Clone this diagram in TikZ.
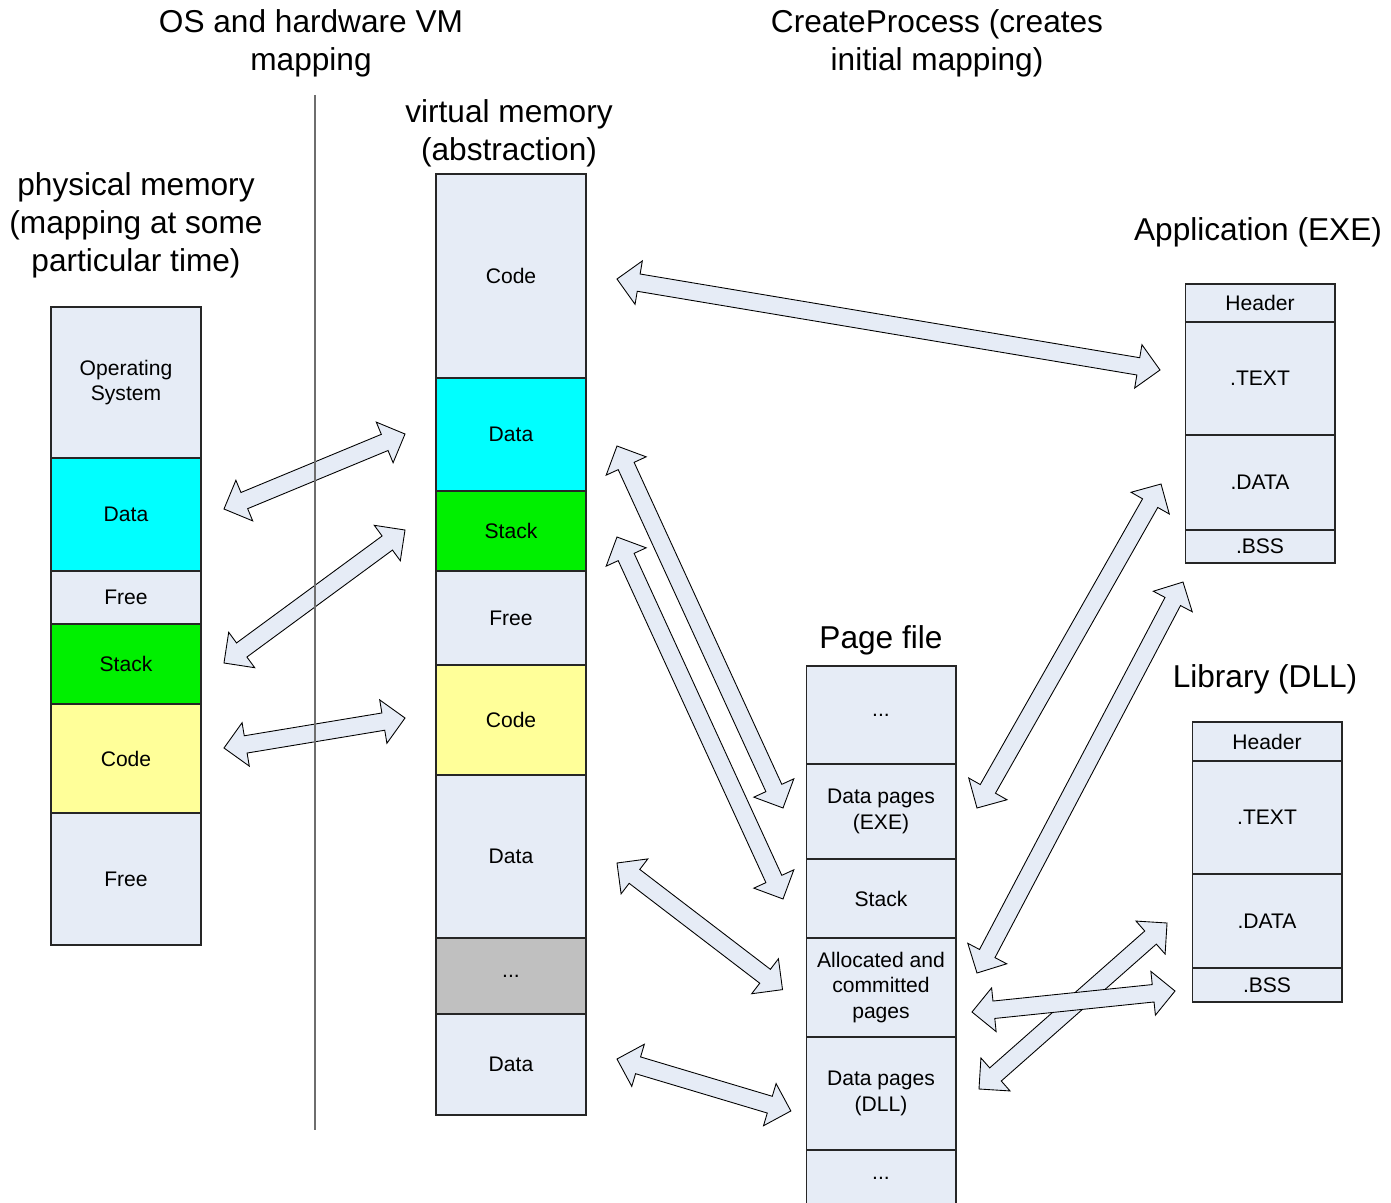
\documentclass[tikz,border=0pt]{standalone}
\usepackage{fontspec}
\setmainfont{Liberation Sans}
\usetikzlibrary{positioning, calc}

\definecolor{cLight}{RGB}{230,236,246}
\definecolor{cData}{RGB}{0,255,255}
\definecolor{cStack}{RGB}{0,240,0}
\definecolor{cCode}{RGB}{255,255,153}
\definecolor{cDots}{RGB}{192,192,192}
\definecolor{cSep}{RGB}{110,110,110}

\newcommand{\boxfont}{\fontsize{12}{14.7}\selectfont}
\newcommand{\titlefont}{\fontsize{18}{21.5}\selectfont}
\newcommand{\arrhead}{0.44cm}
\newcommand{\arrshaft}{0.175cm}

\tikzset{
  basebox/.style={rectangle, draw=black!85, line width=0.6pt, fill=cLight,
                  minimum width=3cm, inner sep=1pt, outer sep=0pt,
                  align=center, font=\boxfont},
  seg/.style={basebox, minimum height=#1*0.02cm},
  datanode/.style={fill=cData},
  stacknode/.style={fill=cStack},
  codenode/.style={fill=cCode},
  dotsnode/.style={fill=cDots},
  title/.style={align=center, inner sep=0pt, font=\titlefont},
  blockarrow/.style={draw=black, fill=cLight, line width=0.5pt, line join=miter},
  sepline/.style={draw=cSep, line width=0.7pt}
}

% hollow two-headed block arrow between two points
\newcommand{\memarrow}[2]{%
  \path[blockarrow] let \p1=#1, \p2=#2,
      \n1={atan2(\y2-\y1,\x2-\x1)}, \n2={veclen(\x2-\x1,\y2-\y1)} in
    [shift={(\p1)}, rotate=\n1]
    (0,0) -- (\arrhead,\arrhead) -- (\arrhead,\arrshaft)
    -- ({\n2-\arrhead},\arrshaft) -- ({\n2-\arrhead},\arrhead) -- (\n2,0)
    -- ({\n2-\arrhead},-\arrhead) -- ({\n2-\arrhead},-\arrshaft)
    -- (\arrhead,-\arrshaft) -- (\arrhead,-\arrhead) -- cycle;
}

\begin{document}
\begin{tikzpicture}[x=0.02cm, y=-0.02cm]

  \useasboundingbox (0,0) rectangle (1391,1202);

  % physical memory
  \node[seg=151, anchor=north] (os) at (126,307) {Operating\\System};
  \node[seg=113, datanode, below=0pt of os] (pdata) {Data};
  \node[seg=53, below=0pt of pdata] (pfree) {Free};
  \node[seg=80, stacknode, below=0pt of pfree] (pstack) {Stack};
  \node[seg=109, codenode, below=0pt of pstack] (pcode) {Code};
  \node[seg=132, below=0pt of pcode] (pfree2) {Free};

  % virtual memory
  \node[seg=204, anchor=north] (vcode) at (511,174) {Code};
  \node[seg=113, datanode, below=0pt of vcode] (vdata) {Data};
  \node[seg=80, stacknode, below=0pt of vdata] (vstack) {Stack};
  \node[seg=94, below=0pt of vstack] (vfree) {Free};
  \node[seg=110, codenode, below=0pt of vfree] (vcode2) {Code};
  \node[seg=163, below=0pt of vcode2] (vdata2) {Data};
  \node[seg=76, dotsnode, below=0pt of vdata2] (vdots) {...};
  \node[seg=101, below=0pt of vdots] (vdata3) {Data};

  % page file
  \node[seg=98, anchor=north] (fdots) at (881,666) {...};
  \node[seg=95, below=0pt of fdots] (fexe) {Data pages\\(EXE)};
  \node[seg=79, below=0pt of fexe] (fstack) {Stack};
  \node[seg=99, below=0pt of fstack] (falloc) {Allocated and\\committed\\pages};
  \node[seg=113, below=0pt of falloc] (fdll) {Data pages\\(DLL)};
  \node[seg=56, below=0pt of fdll] (fdots2) {...};

  % application image
  \node[seg=38, anchor=north] (ahead) at (1260,284) {Header};
  \node[seg=113, below=0pt of ahead] (atext) {.TEXT};
  \node[seg=95, below=0pt of atext] (adata) {.DATA};
  \node[seg=33, below=0pt of adata] (abss) {.BSS};

  % library image
  \node[seg=39, anchor=north] (lhead) at (1267,722) {Header};
  \node[seg=113, below=0pt of lhead] (ltext) {.TEXT};
  \node[seg=94, below=0pt of ltext] (ldata) {.DATA};
  \node[seg=34, below=0pt of ldata] (lbss) {.BSS};

  % headings
  \node[title] (hwtitle) at (311,43) {OS and hardware VM\\mapping};
  \node[title] (cptitle) at (937,43) {CreateProcess (creates\\initial mapping)};
  \node[title, above=0.58cm of os.north, xshift=0.2cm] (ptitle)
      {physical memory\\(mapping at some\\particular time)};
  \node[title, above=0.13cm of vcode.north, xshift=-0.04cm] (vtitle)
      {virtual memory\\(abstraction)};
  \node[title, above=0.22cm of fdots.north] (ftitle) {Page file};
  \node[title, above=0.74cm of ahead.north, xshift=-0.04cm] (atitle) {Application (EXE)};
  \node[title, above=0.56cm of lhead.north, xshift=-0.04cm] (ltitle) {Library (DLL)};

  % mappings
  \memarrow{($(vcode.east)+(31,3)$)}{($(atext.west)+(-25,-8.5)$)}
  \memarrow{($(pdata.east)+(23,-5.5)$)}{($(vdata.west)+(-31,-0.5)$)}
  \memarrow{($(pstack.east)+(23,-1)$)}{($(vstack.west)+(-31,-1)$)}
  \memarrow{($(pcode.east)+(23,-10.5)$)}{($(vcode2.west)+(-31,-2)$)}
  \memarrow{($(vdata.east)+(31,11.5)$)}{($(fexe.west)+(-23,-3.5)$)}
  \memarrow{($(vstack.east)+(31,6)$)}{($(fstack.west)+(-23,0.5)$)}
  \memarrow{($(vdata2.east)+(31,6.5)$)}{($(falloc.west)+(-23,2.5)$)}
  \memarrow{($(vdata3.east)+(31,-5.5)$)}{($(fdll.west)+(-15,17.5)$)}
  \memarrow{($(fexe.east)+(21,-3.5)$)}{($(adata.west)+(-24,1.5)$)}
  \memarrow{($(falloc.east)+(21,-14.5)$)}{($(abss.south west)+(-2,19)$)}
  \memarrow{($(fdll.east)+(23,-4.5)$)}{($(ldata.west)+(-25,2)$)}
  \memarrow{($(falloc.east)+(16,24.5)$)}{($(lbss.west)+(-17,6)$)}

  % divider
  \coordinate (septop) at (315,95);
  \coordinate (sepbot) at (315,1130);
  \draw[sepline] (septop) -- (sepbot);

\end{tikzpicture}
\end{document}
